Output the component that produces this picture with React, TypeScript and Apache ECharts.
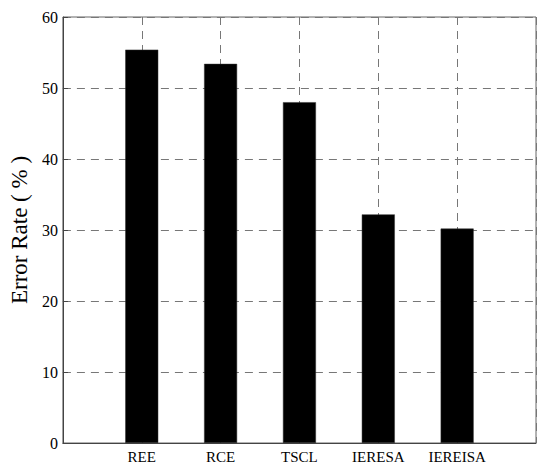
import React, { useEffect, useRef } from "react";
import * as echarts from "echarts";

const categories = ["REE", "RCE", "TSCL", "IERESA", "IEREISA"];
const errorRates = [55.4, 53.4, 48.0, 32.2, 30.2];
const yTicks = [0, 10, 20, 30, 40, 50, 60];

export default function App() {
  const ref = useRef<HTMLDivElement>(null);
  useEffect(() => {
    document.body.style.margin = "0";
    if (!ref.current) return;
    const chart = echarts.init(ref.current, undefined, { renderer: "svg" });
    const xData = ["", ...categories, ""];
    const sData: (number | null)[] = [null, ...errorRates, null];
    const font = "Liberation Serif";
    chart.setOption({
      animation: false,
      backgroundColor: "#fff",
      grid: {
        left: 55,
        right: 14,
        top: 17,
        bottom: 29,
        show: true,
        borderColor: "#666",
        borderWidth: 1,
        containLabel: false,
      },
      xAxis: {
        type: "category",
        data: xData,
        boundaryGap: false,
        axisLine: { show: true, lineStyle: { color: "#444", width: 1 } },
        axisTick: { show: false },
        axisLabel: { color: "#000", fontFamily: font, fontSize: 15, margin: 6, interval: 0 },
        splitLine: { show: true, lineStyle: { color: "#777", type: [8, 6], width: 1 } },
      },
      yAxis: {
        type: "value",
        min: yTicks[0],
        max: yTicks[yTicks.length - 1],
        interval: 10,
        name: "Error Rate ( % )",
        nameLocation: "middle",
        nameGap: 27,
        nameTextStyle: { color: "#000", fontFamily: font, fontSize: 23, padding: [0, 0, 0, 0] },
        axisLine: { show: true, lineStyle: { color: "#444", width: 1 } },
        axisTick: { show: true, inside: true, length: 5, lineStyle: { color: "#444" } },
        axisLabel: { color: "#000", fontFamily: font, fontSize: 16, margin: 5 },
        splitLine: { show: true, lineStyle: { color: "#777", type: [8, 6], width: 1 } },
      },
      series: [
        {
          type: "bar",
          data: sData,
          barWidth: 33,
          itemStyle: { color: "#000", borderColor: "#333", borderWidth: 0.5 },
        },
      ],
    });
    return () => chart.dispose();
  }, []);
  return <div ref={ref} style={{ width: 550, height: 472 }} />;
}
